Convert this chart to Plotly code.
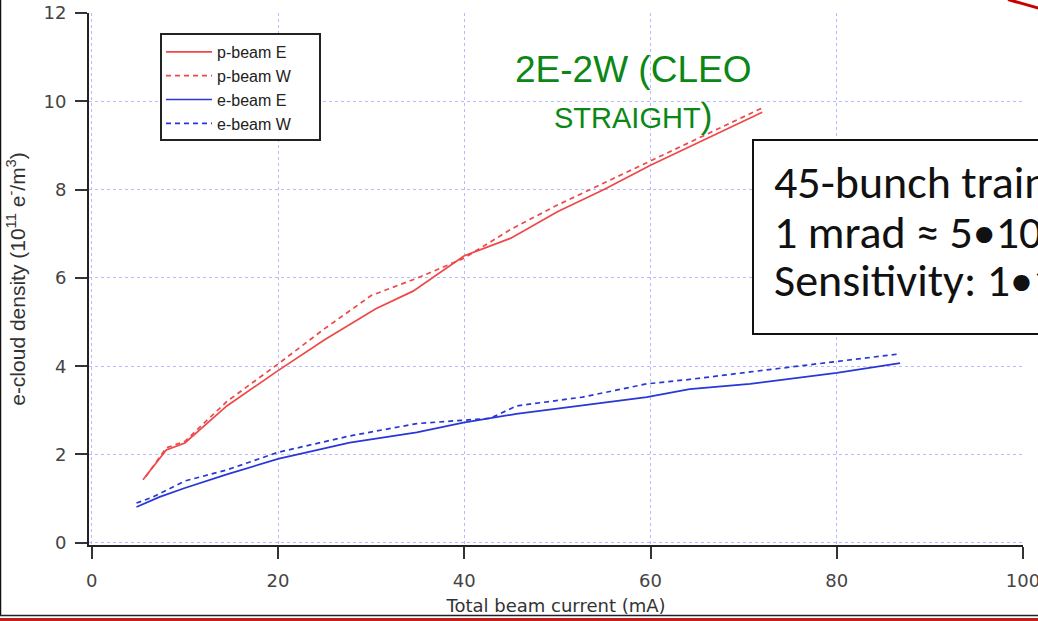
import plotly.graph_objects as go

# e-cloud density vs total beam current, 2E-2W (CLEO straight)
p_east_current = [5.5, 8.0, 10.0, 14.5, 20.0, 25.0, 30.5, 34.5, 40.0, 45.0, 50.0, 55.0, 60.0, 65.0, 72.0]
p_east_density = [1.43, 2.1, 2.26, 3.1, 3.9, 4.6, 5.3, 5.7, 6.5, 6.9, 7.5, 8.0, 8.55, 9.05, 9.75]

p_west_current = [5.8, 8.0, 10.0, 14.5, 20.0, 25.0, 30.0, 35.0, 40.0, 45.0, 50.0, 55.0, 60.0, 65.0, 72.0]
p_west_density = [1.5, 2.15, 2.3, 3.2, 4.05, 4.85, 5.6, 6.0, 6.45, 7.1, 7.65, 8.15, 8.65, 9.15, 9.85]

e_east_current = [4.8, 7.3, 10.0, 14.5, 20.0, 27.7, 34.9, 39.9, 45.6, 52.7, 59.6, 64.2, 70.7, 80.0, 86.8]
e_east_density = [0.81, 1.04, 1.24, 1.55, 1.9, 2.27, 2.5, 2.72, 2.92, 3.12, 3.3, 3.48, 3.6, 3.85, 4.07]

e_west_current = [4.8, 6.6, 10.0, 14.5, 20.0, 27.7, 34.9, 39.9, 42.8, 45.6, 52.7, 59.6, 64.2, 70.7, 80.0, 86.8]
e_west_density = [0.9, 1.04, 1.4, 1.65, 2.05, 2.42, 2.7, 2.78, 2.82, 3.1, 3.3, 3.6, 3.7, 3.87, 4.1, 4.28]

x_ticks = [0, 20, 40, 60, 80, 100]
y_ticks = [0, 2, 4, 6, 8, 10, 12]

RED = "rgb(238,72,72)"
BLUE = "rgb(40,55,215)"
DASH = "5px,4px"

fig = go.Figure()
fig.add_trace(go.Scatter(x=p_east_current, y=p_east_density, mode="lines", name="p-beam E",
                         line=dict(color=RED, width=1.7)))
fig.add_trace(go.Scatter(x=p_west_current, y=p_west_density, mode="lines", name="p-beam W",
                         line=dict(color=RED, width=1.7, dash=DASH)))
fig.add_trace(go.Scatter(x=e_east_current, y=e_east_density, mode="lines", name="e-beam E",
                         line=dict(color=BLUE, width=1.7)))
fig.add_trace(go.Scatter(x=e_west_current, y=e_west_density, mode="lines", name="e-beam W",
                         line=dict(color=BLUE, width=1.7, dash=DASH)))

W, H = 1038, 621
ML, MR, MT, MB = 89, 15, 13, 76
PW, PH = W - ML - MR, H - MT - MB


def px(xp):
    return (xp - ML) / PW


def py(yp):
    return (H - MB - yp) / PH


grid = dict(showgrid=True, gridcolor="rgb(185,185,255)", griddash="dot", gridwidth=1)
tickfont = dict(family="DejaVu Sans, Verdana, sans-serif", size=18, color="#444")

fig.update_xaxes(range=[-0.3, 100], tickvals=x_ticks, ticks="outside", ticklen=12, tickwidth=2,
                 tickcolor="#333", showline=True, linecolor="#222", linewidth=2, zeroline=False,
                 tickfont=tickfont, ticklabelstandoff=6, ticklabeloverflow="allow",
                 title=dict(text="Total beam current (mA)", standoff=10,
                            font=dict(family="DejaVu Sans, Verdana, sans-serif", size=18, color="#333")),
                 **grid)
fig.update_yaxes(range=[-0.05, 12], tickvals=y_ticks, ticks="outside", ticklen=12, tickwidth=2,
                 tickcolor="#333", showline=True, linecolor="#222", linewidth=2, zeroline=False,
                 tickfont=tickfont, ticklabelstandoff=5,
                 title=dict(text="e-cloud density (10<sup>11</sup> e<sup>-</sup>/m<sup>3</sup>)", standoff=12,
                            font=dict(family="Liberation Sans, Arial, sans-serif", size=21, color="#333")),
                 **grid)

green = "rgb(10,135,20)"
annotations = [
    dict(text="2E-2W (CLEO", x=px(633), y=py(47), xref="paper", yref="paper", showarrow=False,
         font=dict(family="Liberation Sans, Arial, sans-serif", size=37, color=green)),
    dict(text="<span style='font-size:29px'>STRAIGHT</span>)", x=px(633), y=py(94), xref="paper", yref="paper",
         showarrow=False, font=dict(family="Liberation Sans, Arial, sans-serif", size=35, color=green)),
]

box_font = dict(family="Carlito, Calibri, Lato, sans-serif", size=46, color="#111")
box_lines = [
    "45-bunch train",
    "1 mrad ≈ 5•10<sup>10</sup> e<sup>-</sup>/m<sup>3</sup>",
    "Sensitivity: 1•10<sup>10</sup> e<sup>-</sup>/m<sup>3</sup>",
]
for i, t in enumerate(box_lines):
    annotations.append(dict(text=t, x=px(772), y=py(182 + 47.5 * i), xref="paper", yref="paper",
                            xanchor="left", yanchor="middle", showarrow=False, font=box_font))

shapes = [
    # legend frame
    dict(type="rect", xref="paper", yref="paper", x0=px(161), x1=px(320), y0=py(140), y1=py(34),
         line=dict(color="#222", width=2), fillcolor="white", layer="above"),
    # text box
    dict(type="rect", xref="paper", yref="paper", x0=px(753), x1=px(1080), y0=py(334), y1=py(140),
         line=dict(color="#111", width=2), fillcolor="white", layer="above"),
    # slide edges
    dict(type="line", xref="paper", yref="paper", x0=px(0.5), x1=px(0.5), y0=py(616), y1=py(0),
         line=dict(color="#111", width=1.5)),
    dict(type="line", xref="paper", yref="paper", x0=px(0), x1=px(1040), y0=py(615.5), y1=py(615.5),
         line=dict(color="#222", width=1.5)),
    dict(type="rect", xref="paper", yref="paper", x0=px(0), x1=px(1040), y0=py(622), y1=py(618),
         line=dict(width=0), fillcolor="rgb(190,30,30)"),
    # arrow fragment
    dict(type="line", xref="paper", yref="paper", x0=px(1008), x1=px(1045), y0=py(-0.5), y1=py(10),
         line=dict(color="rgb(200,0,0)", width=3)),
]

fig.update_layout(
    width=W, height=H,
    margin=dict(l=ML, r=MR, t=MT, b=MB, autoexpand=False),
    paper_bgcolor="white", plot_bgcolor="white",
    showlegend=True,
    legend=dict(x=px(161), y=py(35), xanchor="left", yanchor="top", bgcolor="rgba(0,0,0,0)",
                borderwidth=0,
                font=dict(family="Liberation Sans, Arial, sans-serif", size=16, color="#222"),
                tracegroupgap=0, itemwidth=46),
    annotations=annotations,
    shapes=shapes,
)

fig.write_html("out.html")
